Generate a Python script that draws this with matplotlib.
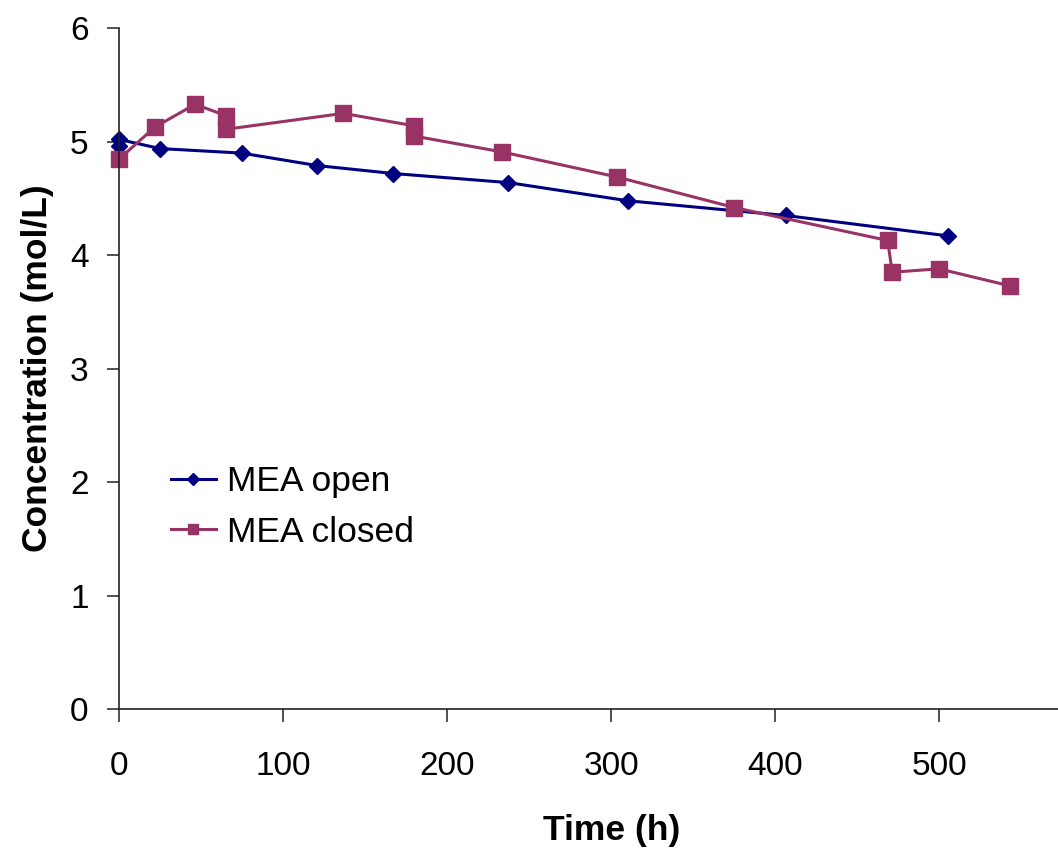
import matplotlib
matplotlib.use("Agg")
from matplotlib import pyplot as plt

# MEA open (navy diamonds)
open_time = [0, 0, 24.8, 74.6, 120.7, 167.1, 237.2, 310.0, 406.3, 505.5]
open_conc = [4.96, 5.02, 4.94, 4.90, 4.79, 4.72, 4.64, 4.48, 4.35, 4.17]

# MEA closed (maroon squares)
closed_time = [0, 21.8, 46.2, 65.0, 65.0, 136.6, 179.9, 179.9, 233.5, 303.3,
               375.0, 468.5, 471.3, 499.8, 543.0]
closed_conc = [4.85, 5.13, 5.33, 5.23, 5.11, 5.25, 5.14, 5.05, 4.91, 4.69,
               4.42, 4.13, 3.85, 3.88, 3.73]

x_ticks = [0, 100, 200, 300, 400, 500]
y_ticks = [0, 1, 2, 3, 4, 5, 6]

plt.rcParams['font.family'] = ['Liberation Sans', 'DejaVu Sans']

W, H = 1058, 858
fig = plt.figure(figsize=(W / 100, H / 100), dpi=100)
# axes runs to x=600, a bit past the right edge of the picture
left, right, top, bottom = 119.3, 1103.3, 28.3, 709.0
ax = fig.add_axes([left / W, 1 - bottom / H, (right - left) / W, (bottom - top) / H])

ax.plot(open_time, open_conc, color='#000080', lw=2.2, marker='D', ms=8.5,
        label='MEA open', clip_on=False)
ax.plot(closed_time, closed_conc, color='#993366', lw=2.2, marker='s', ms=11,
        label='MEA closed', clip_on=False)

ax.set_xlim(0, 600)
ax.set_ylim(0, 6)
ax.set_xticks(x_ticks)
ax.set_yticks(y_ticks)

for s in ['top', 'right']:
    ax.spines[s].set_visible(False)
for s in ['left', 'bottom']:
    ax.spines[s].set_linewidth(1.2)
    ax.spines[s].set_color('#222222')

ax.tick_params(axis='both', direction='out', length=9, width=1.1,
               colors='#222222', labelcolor='black', labelsize=24)
ax.tick_params(axis='x', pad=21)
ax.tick_params(axis='y', pad=13)

ax.set_xlabel('Time (h)', fontsize=25.5, fontweight='bold')
ax.set_ylabel('Concentration (mol/L)', fontsize=25.5, fontweight='bold')
ax.xaxis.set_label_coords(0.5, -0.178)
ax.xaxis.label.set_va('center')
ax.yaxis.set_label_coords(-0.0836, 0.501)
ax.yaxis.label.set_va('center')

ax.legend(loc='center left', bbox_to_anchor=(171 / W, 1 - 507 / H),
          bbox_transform=fig.transFigure, frameon=False, fontsize=25.5,
          handlelength=1.27, handletextpad=0.3, labelspacing=0.5,
          markerscale=0.7, borderpad=0, borderaxespad=0)

fig.savefig('out.png', dpi=100)
